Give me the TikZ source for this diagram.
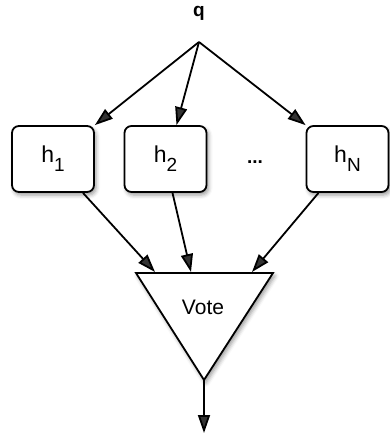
\documentclass[tikz,border=0pt]{standalone}
\usepackage{fontspec}
\setmainfont{Liberation Sans}
\usetikzlibrary{arrows.meta,shadows.blur}

\newcommand{\hsub}[1]{h\raisebox{-9pt}{\fontsize{19}{21}\selectfont #1}}

\begin{document}
\begin{tikzpicture}[x=1pt,y=-1pt]
       \tikzset{hyp/.style={rectangle, minimum width=82pt, minimum height=66pt,
                rounded corners=7pt, draw, line width=1.8pt, fill=white, inner sep=0pt,
                blur shadow={shadow xshift=2pt, shadow yshift=-3pt, shadow blur radius=4pt},
                font=\fontsize{23}{27}\selectfont}}

       \tikzset{arr/.style={-{Triangle[length=18pt,width=12pt]}, line width=1.8pt}}

       \useasboundingbox (0,0) rectangle (389,433);

        \node[font=\fontsize{19}{21}\selectfont\bfseries] (q) at (199,13) {q};
        \coordinate (fork) at (199,42);

        \node[hyp] (h1) at (53,159) {\hsub{1}};
        \node[hyp] (h2) at (165.5,159) {\hsub{2}};
        \node[font=\fontsize{19}{21}\selectfont\bfseries] (dots) at (255,162) {...};
        \node[hyp] (hN) at (347.5,159) {\hsub{N}};

        % vote triangle
        \coordinate (tl) at (136,273);
        \coordinate (tr) at (273,273);
        \coordinate (apex) at (204,380);
        \draw[line width=1.8pt, fill=white, line join=miter,
              blur shadow={shadow xshift=2pt, shadow yshift=-3pt, shadow blur radius=4pt}]
              (tl) -- (tr) -- (apex) -- cycle;
        \node[font=\fontsize{21}{24}\selectfont] (vote) at (203,307) {Vote};
        \coordinate (in1) at (155,272);
        \coordinate (in2) at (191,272);
        \coordinate (inN) at (252,272);
        \coordinate (out) at (204,433);

        \draw[arr](fork) -- (h1.north east);
        \draw[arr](fork) -- ([xshift=11pt]h2.north);
        \draw[arr](fork) -- (hN.north west);

        \draw[arr]([xshift=30pt]h1.south) -- (in1);
        \draw[arr]([xshift=7pt]h2.south) -- (in2);
        \draw[arr]([xshift=-29pt]hN.south) -- (inN);
        \draw[arr](apex) -- (out);

   \end{tikzpicture}
\end{document}
